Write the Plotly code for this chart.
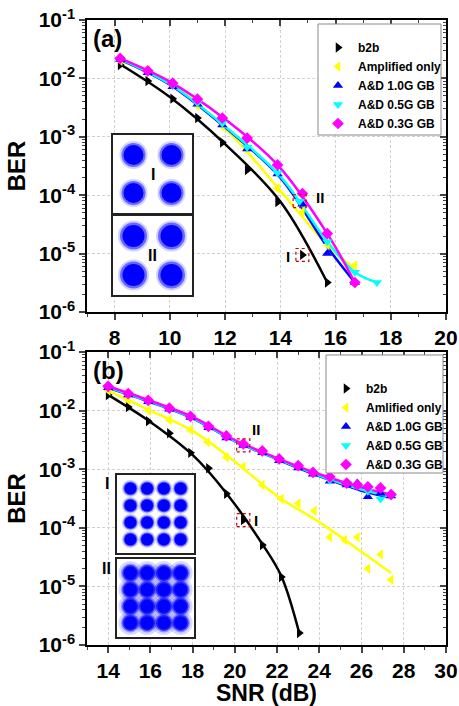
import plotly.graph_objects as go
import math

# ---------------- Panel (a) data ----------------
a_b2b_x = [8.2, 9.2, 10.1, 11.0, 11.9, 12.8, 13.9, 14.8, 15.7]
a_b2b_y = [1.7e-2, 9.0e-3, 4.5e-3, 2.1e-3, 8.0e-4, 2.7e-4, 7.6e-5, 9.5e-6, 3.2e-6]
a_amp_x = [8.2, 9.2, 10.1, 11.0, 11.9, 12.8, 13.9, 14.8, 15.7, 16.7]
a_amp_y = [2.0e-2, 1.4e-2, 7.8e-3, 3.4e-3, 1.5e-3, 5.9e-4, 1.3e-4, 5.2e-5, 1.4e-5, 6.3e-6]
a_ad10_x = [8.2, 9.2, 10.1, 11.0, 11.9, 12.8, 13.9, 14.8, 15.7, 16.7]
a_ad10_y = [2.1e-2, 1.25e-2, 7.2e-3, 3.6e-3, 1.6e-3, 6.2e-4, 2.3e-4, 7.0e-5, 1.0e-5, 3.2e-6]
a_ad05_x = [8.2, 9.2, 10.1, 11.0, 11.9, 12.8, 13.9, 14.7, 15.7, 16.7, 17.5]
a_ad05_y = [2.15e-2, 1.3e-2, 7.5e-3, 3.8e-3, 1.7e-3, 6.6e-4, 2.4e-4, 7.9e-5, 1.6e-5, 4.8e-6, 3.2e-6]
a_ad03_x = [8.2, 9.2, 10.1, 11.0, 11.9, 12.8, 13.9, 14.8, 15.7, 16.7]
a_ad03_y = [2.2e-2, 1.35e-2, 8.3e-3, 4.4e-3, 2.1e-3, 9.5e-4, 3.3e-4, 1.07e-4, 2.2e-5, 3.2e-6]

# fitted curves (a)
a_b2b_fx = [8.2, 10.0, 12.0, 14.0, 15.7]
a_b2b_fy = [1.75e-2, 4.8e-3, 7.5e-4, 7.8e-5, 3.2e-6]
a_amp_fx = [8.2, 10.0, 12.0, 14.0, 15.7, 16.7]
a_amp_fy = [2.0e-2, 8.3e-3, 1.4e-3, 1.2e-4, 1.4e-5, 5.5e-6]
a_ad10_fx = [8.2, 10.0, 12.0, 14.0, 15.7, 16.7]
a_ad10_fy = [2.1e-2, 7.8e-3, 1.45e-3, 2.0e-4, 1.3e-5, 3.2e-6]
a_ad05_fx = [8.2, 10.0, 12.0, 14.0, 15.7, 16.7, 17.5]
a_ad05_fy = [2.15e-2, 8.0e-3, 1.5e-3, 2.1e-4, 1.6e-5, 4.8e-6, 3.2e-6]
a_ad03_fx = [8.2, 10.0, 12.0, 13.9, 15.7, 16.7]
a_ad03_fy = [2.2e-2, 8.8e-3, 2.0e-3, 3.3e-4, 2.2e-5, 3.2e-6]

# ---------------- Panel (b) data ----------------
b_b2b_x = [14.0, 14.95, 15.9, 16.9, 17.9, 18.75, 19.6, 20.4, 21.3, 22.2, 23.05]
b_b2b_y = [1.85e-2, 1.15e-2, 6.6e-3, 4.1e-3, 1.9e-3, 1.04e-3, 3.8e-4, 1.35e-4, 5.1e-5, 1.45e-5, 1.6e-6]
b_amp_x = [14.0, 14.95, 15.9, 16.9, 17.9, 18.7, 19.6, 20.4, 21.3, 22.2, 23.0, 23.76,
           24.5, 25.2, 25.8, 26.3, 26.9, 27.4]
b_amp_y = [2.2e-2, 1.5e-2, 1.0e-2, 6.9e-3, 4.7e-3, 2.9e-3, 1.6e-3, 1.1e-3, 5.4e-4, 3.1e-4,
           2.6e-4, 1.95e-4, 6.9e-5, 6.2e-5, 6.9e-5, 2.0e-5, 3.5e-5, 1.3e-5]
b_ad_x = [14.0, 14.95, 15.9, 16.9, 17.9, 18.75, 19.6, 20.4, 21.3, 22.1, 23.0, 23.7,
          24.5, 25.3, 25.8, 26.3, 26.9, 27.4]
b_ad10_y = [2.45e-2, 1.85e-2, 1.42e-2, 1.05e-2, 7.6e-3, 5.1e-3, 3.4e-3, 2.55e-3, 1.9e-3,
            1.4e-3, 1.05e-3, 8.2e-4, 6.2e-4, 5.4e-4, 5.8e-4, 3.4e-4, 3.9e-4, 3.5e-4]
b_ad05_y = [2.5e-2, 1.9e-2, 1.45e-2, 1.07e-2, 7.8e-3, 5.2e-3, 3.5e-3, 2.6e-3, 1.95e-3,
            1.45e-3, 1.1e-3, 8.4e-4, 6.5e-4, 5.7e-4, 5.0e-4, 4.2e-4, 3.1e-4, 3.5e-4]
b_ad03_y = [2.6e-2, 1.95e-2, 1.5e-2, 1.1e-2, 8.0e-3, 5.4e-3, 3.7e-3, 2.7e-3, 2.05e-3,
            1.5e-3, 1.15e-3, 8.8e-4, 7.4e-4, 5.8e-4, 5.4e-4, 5.0e-4, 4.8e-4, 3.7e-4]

# fitted curves (b)
b_b2b_fx = [14.0, 16.0, 18.0, 19.6, 21.3, 22.2, 23.05]
b_b2b_fy = [1.85e-2, 6.4e-3, 1.75e-3, 3.9e-4, 5.3e-5, 1.5e-5, 1.6e-6]
b_fit_x = [14.0, 16.0, 18.0, 20.0, 22.0, 24.0, 26.0, 27.4]
b_amp_fy = [2.2e-2, 1.0e-2, 4.5e-3, 1.35e-3, 3.5e-4, 1.25e-4, 3.9e-5, 1.7e-5]
b_ad10_fy = [2.45e-2, 1.4e-2, 7.4e-3, 3.0e-3, 1.48e-3, 7.6e-4, 4.3e-4, 3.3e-4]
b_ad05_fy = [2.5e-2, 1.42e-2, 7.5e-3, 3.05e-3, 1.5e-3, 7.8e-4, 4.5e-4, 3.4e-4]
b_ad03_fy = [2.6e-2, 1.47e-2, 7.8e-3, 3.15e-3, 1.55e-3, 8.2e-4, 4.9e-4, 3.7e-4]

# constellations
qpsk_i = [-1, 1, -1, 1]
qpsk_q = [1, 1, -1, -1]
qam_levels = [-3, -1, 1, 3]
qam_i = [i for q in qam_levels for i in qam_levels]
qam_q = [q for q in qam_levels for i in qam_levels]

y_tickvals = [1e-6, 1e-5, 1e-4, 1e-3, 1e-2, 1e-1]
y_ticktext = ["10<sup>-6</sup>", "10<sup>-5</sup>", "10<sup>-4</sup>",
              "10<sup>-3</sup>", "10<sup>-2</sup>", "10<sup>-1</sup>"]

names_a = ["b2b", "Amplified only", "A&D 1.0G GB", "A&D 0.5G GB", "A&D 0.3G GB"]
names_b = ["b2b", "Amlified only", "A&D 1.0G GB", "A&D 0.5G GB", "A&D 0.3G GB"]
colors = ["#000000", "#ffff00", "#0000ff", "#00ffff", "#ff00ff"]
symbols = ["triangle-right", "triangle-left", "triangle-up", "triangle-down", "diamond"]

FONT = "Liberation Sans, Arial, sans-serif"

# ---------------- layout geometry (pixels) ----------------
W, H = 459, 706
L, R, T, B = 87, 13, 20, 61
PW = W - L - R
PH = H - T - B
A_TOP, A_BOT = 20, 312
B_TOP, B_BOT = 352, 645


def py2paper(py):
    return (H - B - py) / PH


def px2paper(px):
    return (px - L) / PW


fig = go.Figure()

sets_a = [
    (a_b2b_fx, a_b2b_fy, a_b2b_x, a_b2b_y),
    (a_amp_fx, a_amp_fy, a_amp_x, a_amp_y),
    (a_ad10_fx, a_ad10_fy, a_ad10_x, a_ad10_y),
    (a_ad05_fx, a_ad05_fy, a_ad05_x, a_ad05_y),
    (a_ad03_fx, a_ad03_fy, a_ad03_x, a_ad03_y),
]
sets_b = [
    (b_b2b_fx, b_b2b_fy, b_b2b_x, b_b2b_y),
    (b_fit_x, b_amp_fy, b_amp_x, b_amp_y),
    (b_fit_x, b_ad10_fy, b_ad_x, b_ad10_y),
    (b_fit_x, b_ad05_fy, b_ad_x, b_ad05_y),
    (b_fit_x, b_ad03_fy, b_ad_x, b_ad03_y),
]

for sets, names, xa, ya, leg in [(sets_a, names_a, "x", "y", "legend"),
                                 (sets_b, names_b, "x2", "y2", "legend2")]:
    for k, (fx, fy, mx, my) in enumerate(sets):
        fig.add_trace(go.Scatter(x=fx, y=fy, mode="lines", line=dict(color=colors[k], width=2.5, shape="spline"),
                                 xaxis=xa, yaxis=ya, showlegend=False, hoverinfo="skip"))
    for k, (fx, fy, mx, my) in enumerate(sets):
        fig.add_trace(go.Scatter(x=mx, y=my, mode="markers", name=names[k],
                                 marker=dict(color=colors[k], symbol=symbols[k], size=9, line=dict(width=0)),
                                 xaxis=xa, yaxis=ya, legend=leg))


def dotted_box(x, y, dx, dlog, xa, ya):
    f = 10 ** dlog
    fig.add_trace(go.Scatter(x=[x - dx, x + dx, x + dx, x - dx, x - dx],
                             y=[y / f, y / f, y * f, y * f, y / f], mode="lines",
                             line=dict(color="#cc0000", width=1.2, dash="dot"),
                             xaxis=xa, yaxis=ya, showlegend=False, hoverinfo="skip"))


dotted_box(a_ad05_x[7], a_ad05_y[7], 0.235, 0.11, "x", "y")
dotted_box(a_b2b_x[7], a_b2b_y[7], 0.235, 0.11, "x", "y")
dotted_box(b_ad_x[7], b_ad10_y[7], 0.31, 0.11, "x2", "y2")
dotted_box(b_b2b_x[7], b_b2b_y[7], 0.31, 0.11, "x2", "y2")


def blobs(xs, ys, xa, ya, layers):
    for size, op in layers:
        fig.add_trace(go.Scatter(x=xs, y=ys, mode="markers", xaxis=xa, yaxis=ya,
                                 marker=dict(color="#0000ff", size=size, opacity=op, line=dict(width=0)),
                                 showlegend=False, hoverinfo="skip"))


blobs(qpsk_i, qpsk_q, "x3", "y3", [(28, 0.18), (24, 0.5), (20, 1.0)])
blobs(qpsk_i, qpsk_q, "x4", "y4", [(31, 0.18), (27, 0.5), (22, 1.0)])
blobs(qam_i, qam_q, "x5", "y5", [(17, 0.2), (14, 0.55), (12, 1.0)])
blobs(qam_i, qam_q, "x6", "y6", [(24, 0.15), (19, 0.35), (16, 0.7), (13, 1.0)])

# invisible traces that carry the inward top/right tick axes
fig.add_trace(go.Scatter(x=a_b2b_x, y=a_b2b_y, xaxis="x7", yaxis="y7", mode="markers",
                         marker=dict(opacity=0), showlegend=False, hoverinfo="skip"))
fig.add_trace(go.Scatter(x=b_b2b_x, y=b_b2b_y, xaxis="x8", yaxis="y8", mode="markers",
                         marker=dict(opacity=0), showlegend=False, hoverinfo="skip"))

dom_a = [py2paper(A_BOT), py2paper(A_TOP)]
dom_b = [py2paper(B_BOT), py2paper(B_TOP)]
tickfont = dict(family=FONT, size=21, color="black", weight="bold")
grid = dict(showgrid=True, gridcolor="#d2d2d2", gridwidth=1, griddash="3px,2px")


def main_x(rng, tick0, title=None):
    d = dict(range=rng, tick0=tick0, dtick=2, tickmode="linear", ticks="outside", ticklen=6, tickwidth=1.5,
             showline=True, linewidth=1.5, linecolor="black", mirror=True, zeroline=False,
             tickfont=tickfont, automargin=False,
             minor=dict(dtick=1, tick0=tick0, ticks="outside", ticklen=3, tickwidth=1.2, showgrid=False),
             **grid)
    if title:
        d["title"] = dict(text=title, font=dict(family=FONT, size=23, color="black", weight="bold"), standoff=4)
    return d


def main_y():
    return dict(type="log", range=[-6, -1], tickmode="array", tickvals=y_tickvals, ticktext=y_ticktext,
                ticks="outside", ticklen=6, tickwidth=1.5, showline=True, linewidth=1.5, linecolor="black",
                mirror=True, zeroline=False, tickfont=tickfont, automargin=False,
                minor=dict(dtick="D1", ticks="outside", ticklen=3, tickwidth=1.2, showgrid=False),
                title=dict(text="BER", font=dict(family=FONT, size=24, color="black", weight="bold"), standoff=6),
                **grid)


def over_x(rng, tick0, ov, anch):
    return dict(range=rng, tick0=tick0, dtick=2, tickmode="linear", overlaying=ov, anchor=anch, side="top",
                ticks="inside", ticklen=6, tickwidth=1.5, showticklabels=False, showgrid=False, zeroline=False,
                showline=False, automargin=False,
                minor=dict(dtick=1, tick0=tick0, ticks="inside", ticklen=3, tickwidth=1.2, showgrid=False))


def over_y(ov, anch):
    return dict(type="log", range=[-6, -1], dtick=1, overlaying=ov, anchor=anch, side="right",
                ticks="inside", ticklen=6, tickwidth=1.5, showticklabels=False, showgrid=False, zeroline=False,
                showline=False, automargin=False,
                minor=dict(dtick="D1", ticks="inside", ticklen=3, tickwidth=1.2, showgrid=False))


def inset_axis(dom, rng, anchor):
    return dict(domain=dom, range=rng, anchor=anchor, showline=True, linewidth=1.5, linecolor="#222",
                mirror=True, ticks="", showticklabels=False, showgrid=False, zeroline=False, automargin=False)


xa_in = [px2paper(113), px2paper(192)]
xb_in = [px2paper(117), px2paper(194)]

fig.update_layout(
    width=W, height=H, margin=dict(l=L, r=R, t=T, b=B, autoexpand=False),
    paper_bgcolor="white", plot_bgcolor="white",
    font=dict(family=FONT, color="black"),
    xaxis=dict(domain=[0, 1], anchor="y", **main_x([7, 20], 8)),
    yaxis=dict(domain=dom_a, anchor="x", **main_y()),
    xaxis2=dict(domain=[0, 1], anchor="y2", **main_x([13, 30], 14, "SNR (dB)")),
    yaxis2=dict(domain=dom_b, anchor="x2", **main_y()),
    xaxis3=inset_axis(xa_in, [-2.08, 2.08], "y3"),
    yaxis3=inset_axis([py2paper(213), py2paper(135)], [-2.05, 2.05], "x3"),
    xaxis4=inset_axis(xa_in, [-2.08, 2.08], "y4"),
    yaxis4=inset_axis([py2paper(295), py2paper(216)], [-2.03, 2.03], "x4"),
    xaxis5=inset_axis(xb_in, [-4.6, 4.6], "y5"),
    yaxis5=inset_axis([py2paper(553), py2paper(475)], [-4.6, 4.6], "x5"),
    xaxis6=inset_axis(xb_in, [-4.6, 4.6], "y6"),
    yaxis6=inset_axis([py2paper(637), py2paper(559)], [-4.7, 4.7], "x6"),
    xaxis7=over_x([7, 20], 8, "x", "y"),
    yaxis7=over_y("y", "x"),
    xaxis8=over_x([13, 30], 14, "x2", "y2"),
    yaxis8=over_y("y2", "x2"),
    legend=dict(x=px2paper(318), y=py2paper(33), xanchor="left", yanchor="top", bgcolor="rgba(0,0,0,0)",
                font=dict(family=FONT, size=12, color="black", weight="bold"), borderwidth=0),
    legend2=dict(x=px2paper(326), y=py2paper(374), xanchor="left", yanchor="top", bgcolor="rgba(0,0,0,0)",
                 font=dict(family=FONT, size=12, color="black", weight="bold"), borderwidth=0),
)

# legend boxes
shapes = [
    dict(type="rect", xref="paper", yref="paper",
         x0=px2paper(318), x1=px2paper(441), y0=py2paper(135), y1=py2paper(24),
         fillcolor="white", line=dict(color="#8a8a8a", width=1), layer="above"),
    dict(type="rect", xref="paper", yref="paper",
         x0=px2paper(326), x1=px2paper(443), y0=py2paper(473), y1=py2paper(355),
         fillcolor="white", line=dict(color="#8a8a8a", width=1), layer="above"),
]
fig.update_layout(shapes=shapes)

lab = dict(family=FONT, color="black", weight="bold")
C = dict(xanchor="center", yanchor="middle", showarrow=False)
ann = [
    dict(text="(a)", x=px2paper(107), y=py2paper(39), xref="paper", yref="paper", font=dict(size=24, **lab), **C),
    dict(text="(b)", x=px2paper(108), y=py2paper(370), xref="paper", yref="paper", font=dict(size=24, **lab), **C),
    dict(text="I", x=0, y=0, xref="x3", yref="y3", font=dict(size=16, **lab), **C),
    dict(text="II", x=0, y=0, xref="x4", yref="y4", font=dict(size=16, **lab), **C),
    dict(text="I", x=px2paper(107), y=py2paper(483), xref="paper", yref="paper", font=dict(size=16, **lab), **C),
    dict(text="II", x=px2paper(106), y=py2paper(568), xref="paper", yref="paper", font=dict(size=16, **lab), **C),
]
for (x, y, xa, ya, t, xs, ys) in [
    (a_ad05_x[7], a_ad05_y[7], "x", "y", "II", 20, 4),
    (a_b2b_x[7], a_b2b_y[7], "x", "y", "I", -14, -2),
    (b_ad_x[7], b_ad10_y[7], "x2", "y2", "II", 13, 16),
    (b_b2b_x[7], b_b2b_y[7], "x2", "y2", "I", 13, 0),
]:
    ann.append(dict(text=t, x=x, y=math.log10(y), xref=xa, yref=ya, xshift=xs, yshift=ys,
                    font=dict(size=15, **lab), **C))
fig.update_layout(annotations=ann)

fig.write_html("out.html", config={"displayModeBar": False},
               post_script="document.body.style.margin='0';document.body.style.padding='0';"
                           "document.body.style.overflow='hidden';")
